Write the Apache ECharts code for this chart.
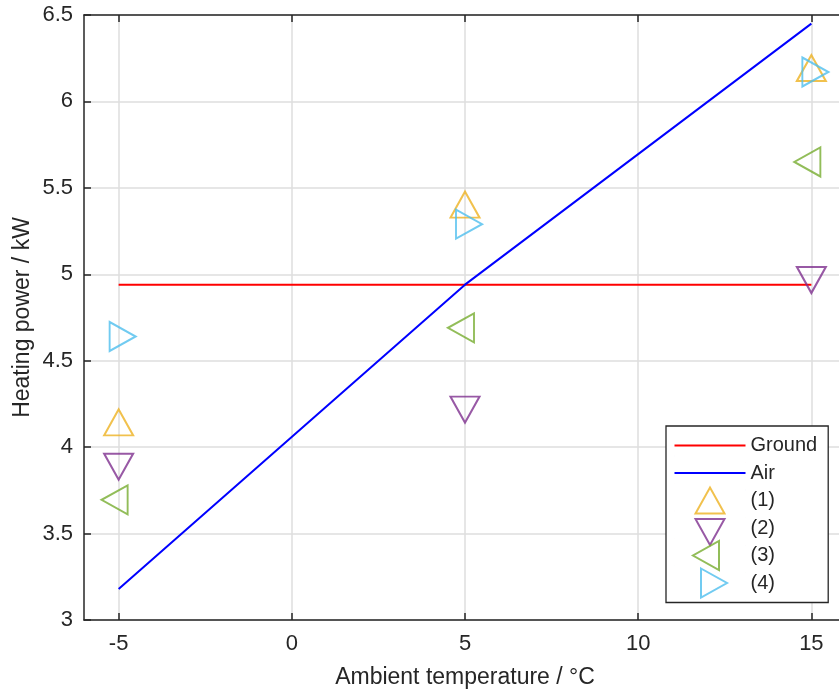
<!DOCTYPE html>
<html>
<head>
<meta charset="utf-8">
<script src="https://cdn.jsdelivr.net/npm/echarts@6/dist/echarts.min.js"></script>
<style>
  html, body { margin: 0; padding: 0; background: #fff; }
  #chart { width: 839px; height: 690px; }
</style>
</head>
<body>
<div id="chart"></div>
<script>
// data
const temps = [-5, 5, 15]
const ground = [4.94, 4.94, 4.94]
const air = [3.18, 4.94, 6.45]
const case1 = [4.12, 5.38, 6.17]
const case2 = [3.91, 4.24, 4.99]
const case3 = [3.695, 4.69, 5.65]
const case4 = [4.64, 5.29, 6.17]

const xTicks = [-5, 0, 5, 10, 15]

const FONT = '"Liberation Sans", Arial, sans-serif'
const INK = '#262626'
const colors = { c1: '#EDB120', c2: '#7E2F8E', c3: '#77AC30', c4: '#4DBEEE' }

const UP = 'path://M0,26L14.5,0L29,26Z'
const DOWN = 'path://M0,0L29,0L14.5,26Z'
const LEFT = 'path://M26,0L26,29L0,14.5Z'
const RIGHT = 'path://M0,0L26,14.5L0,29Z'

// legend icons all drawn in the same 71x34 box so every row has the same height
// (tiny corner segments fix the box; markers sit on their centroid like matlab)
const BOX = 'M0,0L0.01,0M71,34L70.99,34'
const L_LINE = 'path://' + BOX + 'M0,17L71,17'
const L_UP = 'path://' + BOX + 'M21,30L35.5,4L50,30Z'
const L_DOWN = 'path://' + BOX + 'M21,8L50,8L35.5,34Z'
const L_LEFT = 'path://' + BOX + 'M44.5,2.5L44.5,31.5L18.5,17Z'
const L_RIGHT = 'path://' + BOX + 'M26.5,2.5L52.5,17L26.5,31.5Z'

const pts = ys => temps.map((t, i) => [t, ys[i]])

function scatter(name, ys, color, symbol, size, offset) {
  return {
    name, type: 'scatter', data: pts(ys),
    symbol, symbolSize: size, symbolOffset: offset,
    itemStyle: { color: 'none', borderColor: color, borderWidth: 2 },
    z: 3,
  }
}

const chart = echarts.init(document.getElementById('chart'))

const baseAxis = {
  axisLine: { show: true, onZero: false, lineStyle: { color: INK, width: 1.5 } },
  axisTick: { show: true, inside: true, length: 7, lineStyle: { color: INK, width: 1.5 } },
}

const hollow = c => ({ color: 'none', borderColor: c, borderWidth: 2 })

chart.setOption({
  animation: false,
  textStyle: { fontFamily: FONT },
  grid: { left: 84, top: 15, right: -7, bottom: 70, outerBoundsMode: 'none', containLabel: false },
  xAxis: [{
    ...baseAxis,
    type: 'value', min: -6, max: 16,
    name: 'Ambient temperature / °C', nameLocation: 'middle', nameGap: 46,
    nameTextStyle: { color: INK, fontSize: 23, fontFamily: FONT },
    axisLabel: {
      color: INK, fontSize: 22, margin: 13, fontFamily: FONT,
      customValues: xTicks,
    },
    axisTick: { ...baseAxis.axisTick, customValues: xTicks },
    splitLine: { show: true, lineStyle: { color: '#dedede', width: 1.5 } },
  }, {
    ...baseAxis,
    type: 'value', min: -6, max: 16, position: 'top',
    axisLabel: { show: false },
    axisTick: { ...baseAxis.axisTick, customValues: xTicks },
    splitLine: { show: false },
  }],
  yAxis: [{
    ...baseAxis,
    type: 'value', min: 3, max: 6.5, interval: 0.5,
    name: 'Heating power / kW', nameLocation: 'middle', nameGap: 50, nameRotate: 90,
    nameMoveOverlap: false,
    nameTextStyle: { color: INK, fontSize: 23, fontFamily: FONT },
    axisLabel: { color: INK, fontSize: 22, margin: 11, fontFamily: FONT },
    splitLine: { show: true, lineStyle: { color: '#dedede', width: 1.5 } },
  }, {
    ...baseAxis,
    type: 'value', min: 3, max: 6.5, interval: 0.5, position: 'right',
    axisLabel: { show: false },
    splitLine: { show: false },
  }],
  legend: {
    orient: 'vertical',
    left: 666, top: 426,
    padding: [0, 11, 0, 6],
    itemGap: -11.5,
    itemWidth: 71, itemHeight: 34,
    borderColor: INK, borderWidth: 1.3,
    backgroundColor: '#fff',
    textStyle: { color: INK, fontSize: 20, fontFamily: FONT },
    data: [
      { name: 'Ground', icon: L_LINE, itemStyle: hollow('#ff0000') },
      { name: 'Air', icon: L_LINE, itemStyle: hollow('#0000ff') },
      { name: '(1)', icon: L_UP, itemStyle: hollow(colors.c1) },
      { name: '(2)', icon: L_DOWN, itemStyle: hollow(colors.c2) },
      { name: '(3)', icon: L_LEFT, itemStyle: hollow(colors.c3) },
      { name: '(4)', icon: L_RIGHT, itemStyle: hollow(colors.c4) },
    ],
  },
  series: [
    {
      name: 'Ground', type: 'line', data: pts(ground), symbol: 'none',
      lineStyle: { color: '#ff0000', width: 2 }, itemStyle: { color: '#ff0000' },
    },
    {
      name: 'Air', type: 'line', data: pts(air), symbol: 'none',
      lineStyle: { color: '#0000ff', width: 2 }, itemStyle: { color: '#0000ff' },
    },
    scatter('(1)', case1, colors.c1, UP, [29, 26], [0, -4]),
    scatter('(2)', case2, colors.c2, DOWN, [29, 26], [0, 4]),
    scatter('(3)', case3, colors.c3, LEFT, [26, 29], [-4, 0]),
    scatter('(4)', case4, colors.c4, RIGHT, [26, 29], [4, 0]),
  ],
})
</script>
</body>
</html>
